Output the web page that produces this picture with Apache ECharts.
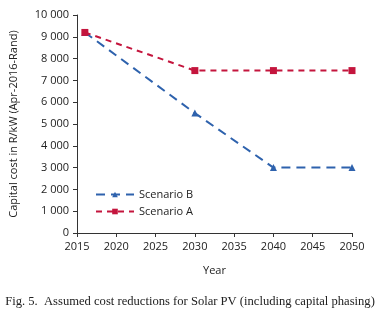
<!DOCTYPE html>
<html>
<head>
<meta charset="utf-8">
<script src="https://cdn.jsdelivr.net/npm/echarts@6/dist/echarts.min.js"></script>
<style>
  html, body { margin: 0; padding: 0; background: #fff; }
  #chart { width: 380px; height: 316px; }
</style>
</head>
<body>
<div id="chart"></div>
<script>
// data
const years = [2016, 2030, 2040, 2050];
const scenarioB = [9200, 5500, 3000, 3000];
const scenarioA = [9200, 7450, 7450, 7450];

const colorA = "#c4153d";
const colorB = "#2e62ad";
const font = "Open Sans";

const fmt = (v) => String(v).replace(/\B(?=(\d{3})+(?!\d))/g, " ");

const myChart = echarts.init(document.getElementById("chart"));
myChart.setOption({
  animation: false,
  textStyle: { fontFamily: font },
  grid: { left: 75, right: 28, top: 15, bottom: 83 },
  legend: {
    orient: "vertical",
    left: 90,
    top: 184,
    itemGap: 6,
    itemWidth: 38,
    itemHeight: 7,
    textStyle: { fontFamily: font, fontSize: 11, color: "#222" },
    data: ["Scenario B", "Scenario A"],
  },
  xAxis: {
    type: "value",
    min: 2015,
    max: 2050,
    interval: 5,
    name: "Year",
    nameLocation: "middle",
    nameGap: 32,
    nameTextStyle: { fontSize: 11, color: "#222" },
    axisLine: { lineStyle: { color: "#333", width: 1 } },
    axisTick: { show: true, length: 4, lineStyle: { color: "#333" } },
    axisLabel: { color: "#222", fontSize: 11, margin: 8, formatter: (v) => String(v) },
    splitLine: { show: false },
  },
  yAxis: {
    type: "value",
    min: 0,
    max: 10000,
    interval: 1000,
    name: "Capital cost in R/kW (Apr-2016-Rand)",
    nameLocation: "middle",
    nameGap: 58,
    nameTextStyle: { fontSize: 11, color: "#222" },
    axisLine: { show: true, lineStyle: { color: "#333", width: 1 } },
    axisTick: { show: true, length: 4, lineStyle: { color: "#333" } },
    axisLabel: { color: "#222", fontSize: 11, margin: 8, formatter: fmt },
    splitLine: { show: false },
  },
  series: [
    {
      name: "Scenario B",
      type: "line",
      symbol: "triangle",
      symbolSize: 7,
      itemStyle: { color: colorB },
      lineStyle: { color: colorB, width: 2, type: [9, 6] },
      data: years.map((y, i) => [y, scenarioB[i]]),
    },
    {
      name: "Scenario A",
      type: "line",
      symbol: "rect",
      symbolSize: 7,
      itemStyle: { color: colorA },
      lineStyle: { color: colorA, width: 2, type: [6, 5] },
      data: years.map((y, i) => [y, scenarioA[i]]),
    },
  ],
  graphic: [
    {
      type: "text",
      left: "center",
      top: 295,
      style: {
        text: "Fig. 5.  Assumed cost reductions for Solar PV (including capital phasing)",
        font: "12.6px 'Liberation Serif'",
        fill: "#222",
      },
    },
  ],
});
</script>
</body>
</html>
